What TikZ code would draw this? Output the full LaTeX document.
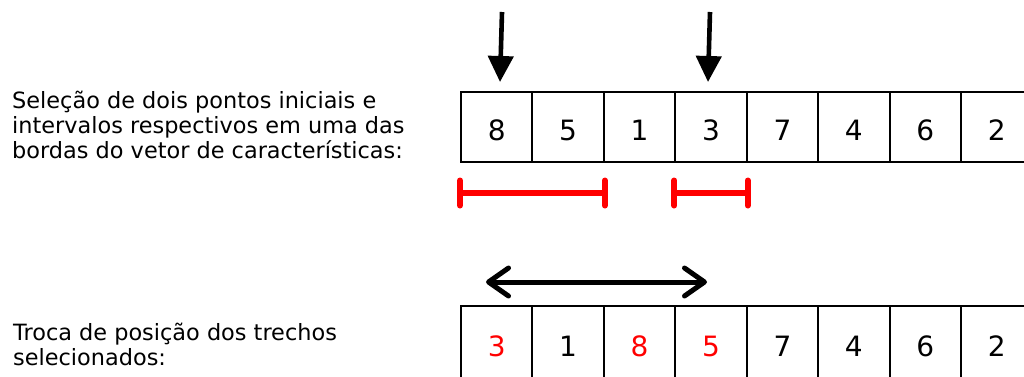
\documentclass[tikz,border=0pt]{standalone}
\usepackage{fontspec}
\setmainfont{DejaVu Sans}
\usetikzlibrary{arrows.meta}

\begin{document}
\begin{tikzpicture}[x=1pt,y=-1pt,
  cell/.style={draw=black,line width=2pt,minimum width=71.43pt,minimum height=70pt,
    inner sep=0pt,font=\fontsize{28}{30}\selectfont,text height=26pt,text depth=0pt},
  lowcell/.style={cell,minimum height=74pt},
  caption/.style={anchor=base west,align=left,inner sep=0pt,font=\fontsize{22.4}{25}\selectfont},
  pick/.style={line width=4.6pt,-{Triangle[width=25pt,length=26pt]}},
  span/.style={red,line width=6pt,line cap=round},
  barb/.tip={Straight Barb[length=20pt,width=28pt,line cap=round,line join=round]},
  swap/.style={line width=5pt,line cap=round,barb-barb},
]
% page
\fill[white] (0,0) rectangle (1024,376);
\useasboundingbox (0,0) rectangle (1024,376);

% captions (anchored on the baseline of their last line)
\node[caption] (cap1) at (12,158)
  {Seleção de dois pontos iniciais e\\intervalos respectivos em uma das\\bordas do vetor de características:};
\node[caption] (cap2) at (13,365)
  {Troca de posição dos trechos\\selecionados:};

% original vector
\foreach \v [count=\i] in {8,5,1,3,7,4,6,2}
  \node[cell] (t\i) at ({461+71.43*(\i-0.5)},127) {\v};

% vector after the swap
\foreach \v/\c [count=\i] in {3/red,1/black,8/red,5/red,7/black,4/black,6/black,2/black}
  \node[lowcell,text=\c] (b\i) at ({461+71.43*(\i-0.5)},343) {\v};

% chosen starting points
\coordinate (p1) at (502,12);
\coordinate (q1) at (500,82);
\coordinate (p2) at (710,12);
\coordinate (q2) at (708,82);
\draw[pick] (p1) -- (q1);
\draw[pick] (p2) -- (q2);

% selected intervals
\coordinate (s1a) at ([yshift=-30pt]t1.south west);
\coordinate (s1b) at ([yshift=-30pt]t2.south east);
\coordinate (s2a) at ([yshift=-30pt]t4.south west);
\coordinate (s2b) at ([yshift=-30pt]t4.south east);
\foreach \a/\b in {s1a/s1b,s2a/s2b}{
  \draw[span] (\a) -- (\b);
  \draw[span] ([yshift=12.5pt]\a) -- ([yshift=-12.5pt]\a);
  \draw[span] ([yshift=12.5pt]\b) -- ([yshift=-12.5pt]\b);
}

% exchange of the two segments
\coordinate (w1) at (486,282);
\coordinate (w2) at (707,282);
\draw[swap] (w1) -- (w2);
\end{tikzpicture}
\end{document}
